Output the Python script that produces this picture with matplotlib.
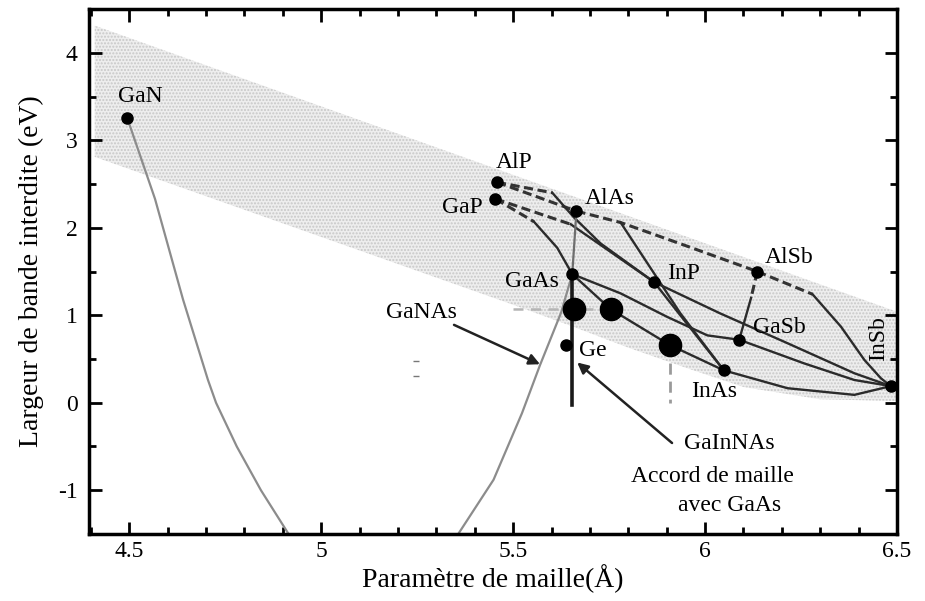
import matplotlib
matplotlib.use("Agg")
import matplotlib.pyplot as plt
from matplotlib.ticker import MultipleLocator, FormatStrFormatter

plt.rcParams['font.family'] = ['Liberation Serif', 'DejaVu Serif']
plt.rcParams['axes.unicode_minus'] = False

# binaires : parametre de maille (A) et gap (eV)
compounds = ["GaN", "AlP", "GaP", "AlAs", "GaAs", "InP", "AlSb", "GaSb", "InAs", "InSb", "Ge"]
lattice = [4.495, 5.458, 5.454, 5.665, 5.654, 5.867, 6.136, 6.089, 6.049, 6.484, 5.639]
gap = [3.25, 2.52, 2.33, 2.19, 1.47, 1.38, 1.50, 0.72, 0.37, 0.19, 0.66]
# decalage des etiquettes (points)
label_off = [(9, 16), (12, 14), (-24, -6), (24, 9), (-29, -5), (21, 6),
             (23, 10), (29, 9), (-7, -15), (-9, 34), (19, -4)]

# GaInNAs (gros points)
big_x = [5.658, 5.754, 5.908]
big_y = [1.07, 1.07, 0.66]

# zone grisee
band_x = [4.41, 6.5, 6.5, 6.3, 6.1, 5.95, 5.8, 5.65, 5.5, 4.41]
band_y = [4.31, 1.04, 0.02, 0.04, 0.18, 0.40, 0.63, 0.88, 1.12, 2.81]

# GaNAs
gan_left_x = [4.495, 4.567, 4.640, 4.705, 4.726, 4.780, 4.843, 4.915]
gan_left_y = [3.25, 2.33, 1.18, 0.26, 0.0, -0.5, -1.0, -1.5]
gan_right_x = [5.357, 5.449, 5.523, 5.570, 5.625, 5.654]
gan_right_y = [-1.5, -0.88, -0.12, 0.43, 1.03, 1.47]

# ternaires, partie indirecte (tirets)
dashed = {
    "AlAsP": ([5.458, 5.665], [2.52, 2.19]),
    "AlInP_i": ([5.458, 5.602], [2.52, 2.40]),
    "GaAsP_i": ([5.454, 5.554], [2.33, 2.07]),
    "GaInP_i": ([5.454, 5.650], [2.33, 2.04]),
    "AlAsSb": ([5.665, 5.780, 5.953, 6.136], [2.19, 2.06, 1.79, 1.50]),
    "AlInSb_i": ([6.136, 6.280], [1.50, 1.24]),
    "AlGaSb_i": ([6.136, 6.120], [1.50, 1.20]),
}
# ternaires, partie directe
solid = {
    "AlInP": ([5.602, 5.658, 5.728, 5.867], [2.40, 2.12, 1.82, 1.38]),
    "GaAsP": ([5.554, 5.615, 5.654], [2.07, 1.77, 1.47]),
    "GaInP": ([5.650, 5.788, 5.867], [2.04, 1.62, 1.38]),
    "AlInAs": ([5.780, 5.936, 6.049], [2.06, 1.02, 0.37]),
    "AlInSb": ([6.280, 6.354, 6.415, 6.458, 6.484], [1.24, 0.87, 0.49, 0.28, 0.19]),
    "AlGaSb": ([6.120, 6.089], [1.20, 0.72]),
    "GaAsSb": ([5.654, 5.780, 5.902, 6.006, 6.089], [1.47, 1.25, 0.98, 0.77, 0.72]),
    "GaInAs": ([5.654, 5.754, 5.908, 6.049], [1.47, 1.07, 0.66, 0.37]),
    "InAsP": ([5.867, 6.049], [1.38, 0.37]),
    "InPSb": ([5.867, 6.040, 6.215, 6.389, 6.484], [1.38, 1.02, 0.68, 0.337, 0.19]),
    "GaInSb": ([6.089, 6.258, 6.389, 6.484], [0.72, 0.45, 0.26, 0.19]),
    "InAsSb": ([6.049, 6.215, 6.389, 6.484], [0.37, 0.166, 0.09, 0.19]),
}
algaas_x = [5.665, 5.654]
algaas_y = [2.19, 1.47]
match_x = [5.654, 5.654]
match_y = [1.47, -0.03]

fig = plt.figure(figsize=(9.25, 6.01), dpi=100)
ax = fig.add_axes([0.0962, 0.1115, 0.8735, 0.8735])

ax.fill(band_x, band_y, facecolor='#eeeeee', edgecolor='#c8c8c8', hatch='.....', lw=0, zorder=0)

ax.plot(gan_left_x, gan_left_y, color='#8c8c8c', lw=1.6, zorder=2)
ax.plot(gan_right_x, gan_right_y, color='#8c8c8c', lw=1.6, zorder=2)

for name, (xs, ys) in dashed.items():
    ax.plot(xs, ys, color='#333333', lw=2.2, ls=(0, (3, 1.5)), zorder=3)
for name, (xs, ys) in solid.items():
    ax.plot(xs, ys, color='#2b2b2b', lw=1.7, zorder=3)

ax.plot(algaas_x, algaas_y, color='#6e6e6e', lw=1.6, zorder=3)
ax.plot(match_x, match_y, color='#1a1a1a', lw=2.6, zorder=4)
ax.plot([5.50, 5.754], [big_y[0], big_y[1]], color='#b5b5b5', lw=1.8, ls=(0, (4, 3)), zorder=2)
ax.plot([big_x[2], big_x[2]], [big_y[2], 0.0], color='#9a9a9a', lw=2.0, ls=(0, (4, 2.5)), zorder=2)

ax.plot(lattice, gap, 'o', color='black', ms=8, zorder=5)
ax.plot(big_x, big_y, 'o', color='black', ms=16, zorder=5)

for name, x, y, off in zip(compounds, lattice, gap, label_off):
    rot = 90 if name == "InSb" else 0
    ax.annotate(name, (x, y), xytext=off, textcoords='offset points',
                ha='center', va='center', fontsize=17, rotation=rot, zorder=6)

# petites marques
ax.plot([5.248, 5.248], [0.48, 0.31], '_', color='#777777', ms=4)

ax.text(5.26, 1.03, "GaNAs", fontsize=17, ha='center', va='center')
ax.annotate("", xy=(5.570, 0.44), xytext=(5.346, 0.89),
            arrowprops=dict(arrowstyle='-|>', color='#222222', lw=1.8,
                            mutation_scale=16, shrinkA=0, shrinkB=0))
ax.text(6.063, -0.47, "GaInNAs", fontsize=17, ha='center', va='center')
ax.text(6.02, -0.84, "Accord de maille", fontsize=17, ha='center', va='center')
ax.text(6.063, -1.18, "avec GaAs", fontsize=17, ha='center', va='center')
ax.annotate("", xy=(5.667, 0.46), xytext=(5.914, -0.46),
            arrowprops=dict(arrowstyle='-|>', color='#222222', lw=1.8,
                            mutation_scale=16, shrinkA=0, shrinkB=0))

ax.set_xlim(4.395, 6.5)
ax.set_ylim(-1.5, 4.5)
ax.xaxis.set_major_locator(MultipleLocator(0.5))
ax.xaxis.set_minor_locator(MultipleLocator(0.1))
ax.yaxis.set_major_locator(MultipleLocator(1))
ax.yaxis.set_minor_locator(MultipleLocator(0.5))
ax.xaxis.set_major_formatter(FormatStrFormatter('%g'))
ax.yaxis.set_major_formatter(FormatStrFormatter('%g'))
ax.tick_params(which='both', direction='in', top=True, right=True, width=2, labelsize=17)
ax.tick_params(which='major', length=9, pad=8)
ax.tick_params(axis='x', which='major', pad=5)
ax.tick_params(which='minor', length=5)
for s in ax.spines.values():
    s.set_linewidth(2.5)

ax.set_xlabel("Paramètre de maille(Å)", fontsize=20, labelpad=2)
ax.set_ylabel("Largeur de bande interdite (eV)", fontsize=20, labelpad=10)

fig.savefig("out.png", dpi=100)
